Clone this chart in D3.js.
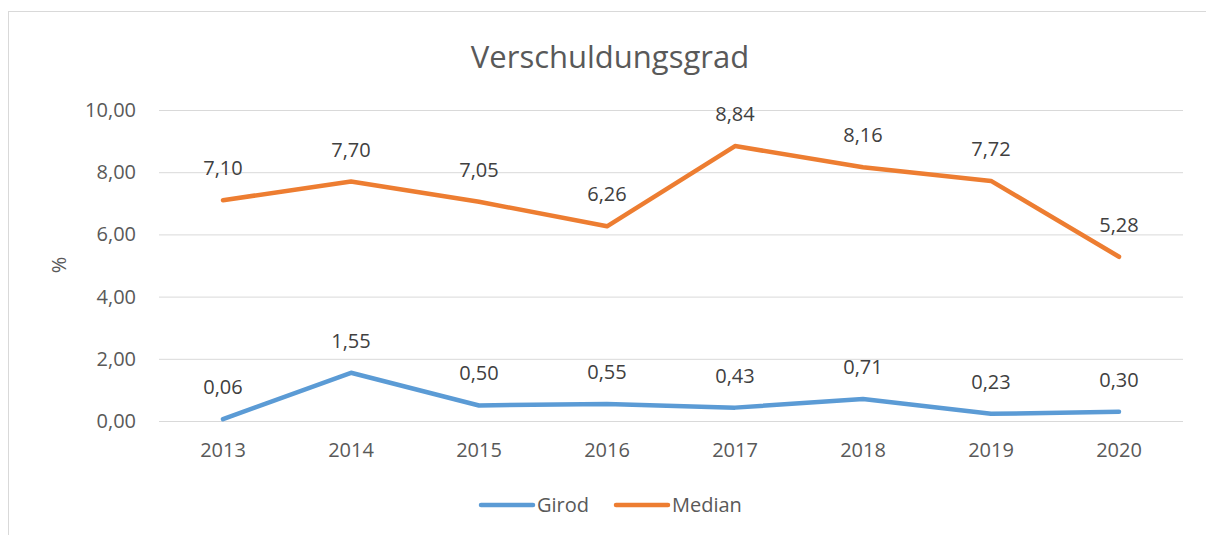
<!DOCTYPE html>
<html>
<head>
<meta charset="utf-8">
<script src="https://cdn.jsdelivr.net/npm/d3@7"></script>
<style>
  body { margin: 0; background: #fff; }
  text { font-family: "Open Sans", "Noto Sans", sans-serif; }
</style>
</head>
<body>
<svg id="chart" width="1206" height="535"></svg>
<script>
var years  = ["2013", "2014", "2015", "2016", "2017", "2018", "2019", "2020"];
var girod  = [0.06, 1.55, 0.50, 0.55, 0.43, 0.71, 0.23, 0.30];
var median = [7.10, 7.70, 7.05, 6.26, 8.84, 8.16, 7.72, 5.28];
var yTicks = [0, 2, 4, 6, 8, 10];

var series = [
  {name: "Girod",  values: girod,  color: "#5B9BD5"},
  {name: "Median", values: median, color: "#ED7D31"}
];

var svg = d3.select("#chart");
var fmt = v => d3.format(".2f")(v).replace(".", ",");

// chart frame
svg.append("rect")
   .attr("x", 8.5).attr("y", 11.5)
   .attr("width", 1220).attr("height", 540)
   .attr("fill", "none").attr("stroke", "#d9d9d9");

var x = d3.scaleBand().domain(years).range([159, 1183]);
var y = d3.scaleLinear().domain([0, 10]).range([421, 110]);

// gridlines
svg.append("g").selectAll("line")
   .data(yTicks).enter().append("line")
   .attr("x1", 159).attr("x2", 1183)
   .attr("y1", d => y(d) + 0.5).attr("y2", d => y(d) + 0.5)
   .attr("stroke", "#d9d9d9").attr("stroke-width", 1);

var yAxis = svg.append("g")
   .attr("transform", "translate(146,0)")
   .call(d3.axisLeft(y).tickValues(yTicks).tickFormat(fmt).tickSize(0).tickPadding(10));
yAxis.select(".domain").remove();
yAxis.selectAll("text").attr("fill", "#595959").style("font-size", "20px");

var xAxis = svg.append("g")
   .attr("transform", "translate(0,421)")
   .call(d3.axisBottom(x).tickSize(0).tickPadding(22));
xAxis.select(".domain").remove();
xAxis.selectAll("text").attr("fill", "#595959").style("font-size", "20px");

// title
svg.append("text")
   .attr("x", 610).attr("y", 68)
   .attr("text-anchor", "middle")
   .attr("fill", "#595959")
   .style("font-size", "31px")
   .text("Verschuldungsgrad");

// y axis title
svg.append("text")
   .attr("transform", "translate(66,265) rotate(-90)")
   .attr("text-anchor", "middle")
   .attr("fill", "#595959")
   .style("font-size", "20px")
   .text("%");

var line = d3.line()
   .x((d, i) => x(years[i]) + x.bandwidth() / 2)
   .y(d => y(d));

series.forEach(s => {
  svg.append("path")
     .datum(s.values)
     .attr("d", line)
     .attr("fill", "none")
     .attr("stroke", s.color)
     .attr("stroke-width", 4.5)
     .attr("stroke-linejoin", "round")
     .attr("stroke-linecap", "round");

  svg.append("g").selectAll("text")
     .data(s.values).enter().append("text")
     .attr("x", (d, i) => x(years[i]) + x.bandwidth() / 2)
     .attr("y", d => y(d) - 25)
     .attr("text-anchor", "middle")
     .attr("fill", "#404040")
     .style("font-size", "20px")
     .text(d => fmt(d));
});

// legend
var legend = svg.append("g").selectAll("g")
   .data(series).enter().append("g")
   .attr("transform", (d, i) => `translate(${481 + i * 135},505)`);
legend.append("line")
   .attr("x1", 0).attr("x2", 52)
   .attr("stroke", d => d.color)
   .attr("stroke-width", 4.5)
   .attr("stroke-linecap", "round");
legend.append("text")
   .attr("x", 56).attr("y", 7)
   .attr("fill", "#595959")
   .style("font-size", "20px")
   .text(d => d.name);
</script>
</body>
</html>
